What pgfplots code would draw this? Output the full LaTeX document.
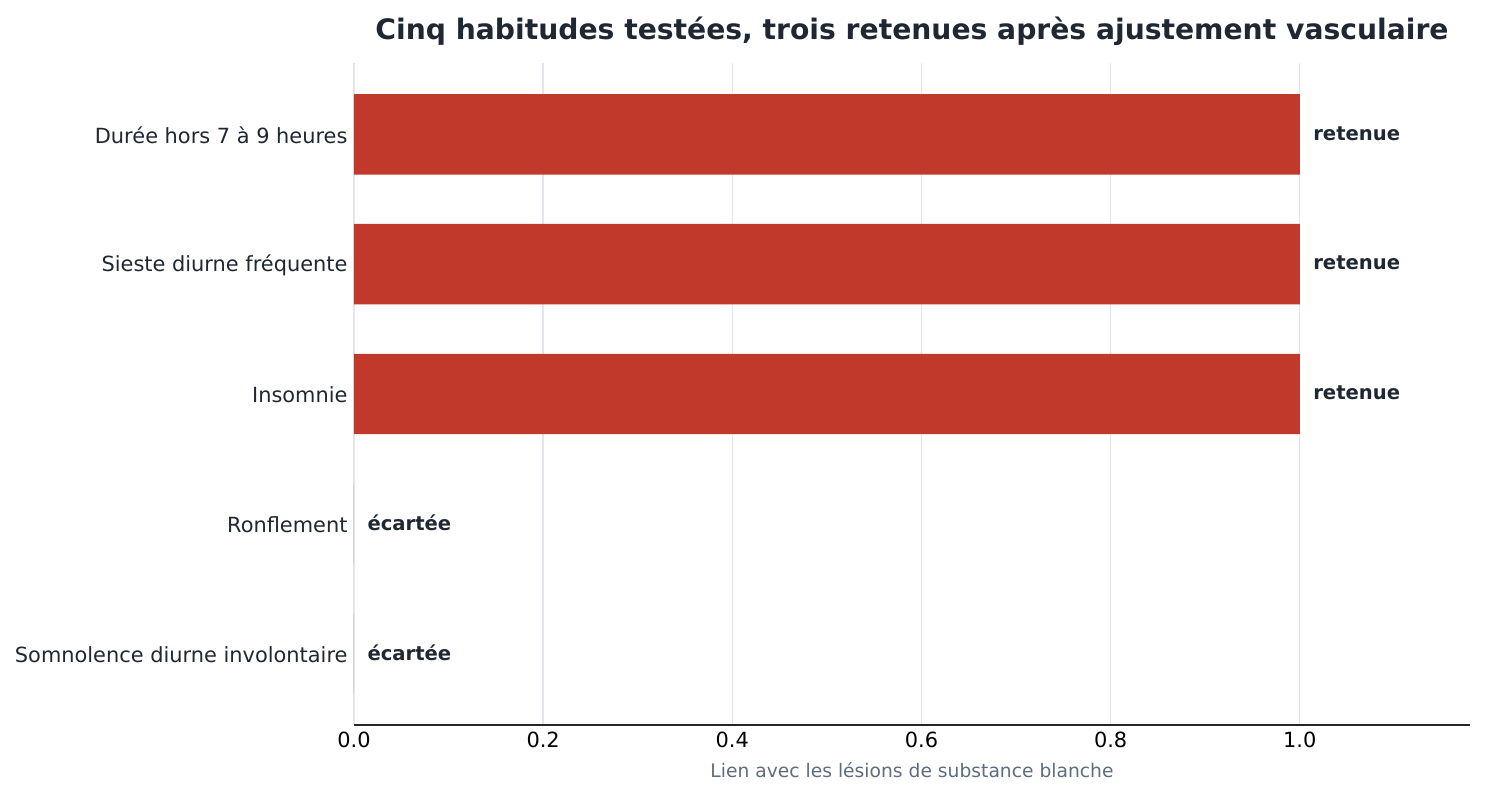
\documentclass[border=0pt]{standalone}
\usepackage{pgfplots}
\pgfplotsset{compat=1.18}
\usepackage{fontspec}
\setmainfont{DejaVu Sans}
\definecolor{barred}{HTML}{C0392B}
\definecolor{darktxt}{HTML}{1F2733}
\definecolor{graytxt}{HTML}{5D6D7E}
\definecolor{gridc}{HTML}{E3E6EA}
\begin{document}
\begin{tikzpicture}[x=1pt,y=1pt]
\path[use as bounding box] (-354,-70) rectangle (1131,725);
\begin{axis}[
  at={(0,0)}, anchor=south west,
  scale only axis, width=1116pt, height=662pt,
  xbar, bar width=0.62,
  xmin=0, xmax=1.18, ymin=-0.55, ymax=4.55,
  xtick={0,0.2,0.4,0.6,0.8,1.0},
  xticklabel style={/pgf/number format/fixed, /pgf/number format/fixed zerofill, /pgf/number format/precision=1, /pgf/number format/assume math mode=true},
  ytick={0,1,2,3,4},
  yticklabels={Somnolence diurne involontaire, Ronflement, Insomnie, Sieste diurne fréquente, Durée hors 7 à 9 heures},
  major tick length=0pt,
  axis x line*=bottom, axis y line*=left,
  y axis line style={draw=none},
  x axis line style={draw=black!85, line width=1.6pt, -},
  xmajorgrids, grid style={gridc, line width=1.4pt},
  tick label style={font=\fontsize{20.9}{25}\selectfont},
  xticklabel style={black, yshift=-3pt},
  yticklabel style={darktxt, xshift=-3pt, yshift=-1pt},
  xlabel={Lien avec les lésions de substance blanche},
  xlabel style={graytxt, font=\fontsize{18.7}{22}\selectfont, yshift=-8pt},
  title={Cinq habitudes testées, trois retenues après ajustement vasculaire},
  title style={darktxt, font=\fontsize{28.2}{32}\bfseries\selectfont, yshift=8pt},
  nodes near coords, point meta=explicit symbolic,
  nodes near coords style={anchor=west, xshift=10pt, yshift=1pt, darktxt, font=\fontsize{19.6}{23}\bfseries\selectfont},
]
\addplot[fill=barred, draw=none] coordinates {
 (0,0) [écartée]
 (0,1) [écartée]
 (1,2) [retenue]
 (1,3) [retenue]
 (1,4) [retenue]
};
\end{axis}
\end{tikzpicture}
\end{document}
